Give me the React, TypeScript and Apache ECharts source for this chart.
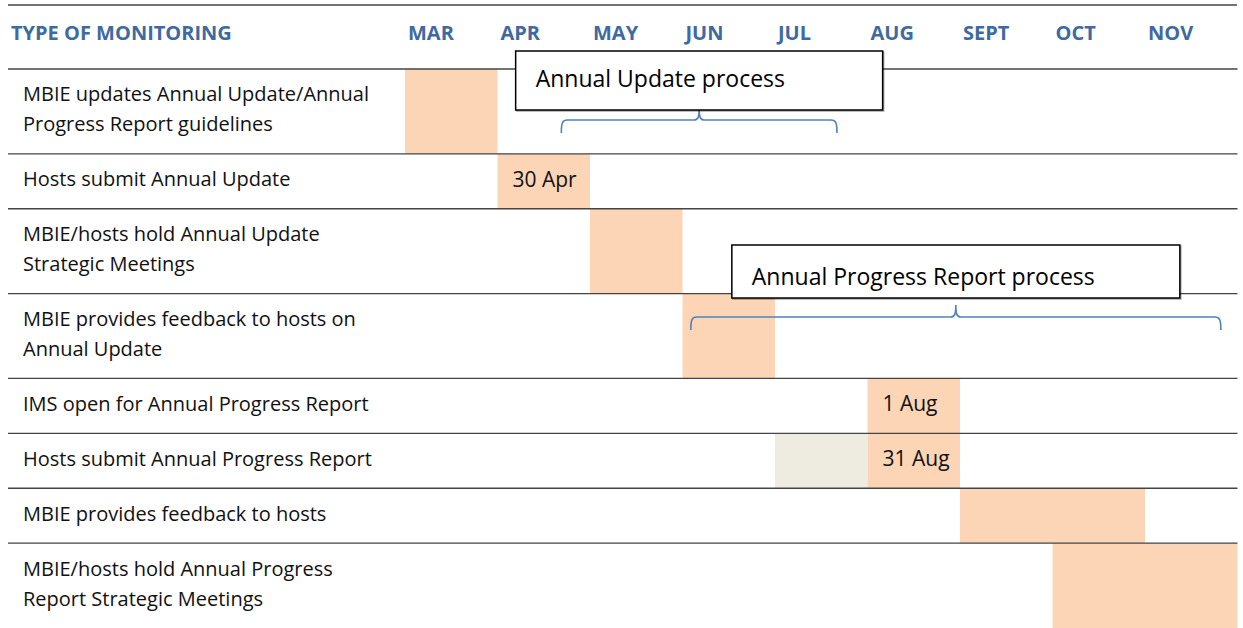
import React, { useEffect, useRef } from "react";
import * as echarts from "echarts";

// ---------- data ----------
const months = ["MAR", "APR", "MAY", "JUN", "JUL", "AUG", "SEPT", "OCT", "NOV"];
const headerTitle = "TYPE OF MONITORING";
const activities = [
  "MBIE updates Annual Update/Annual\nProgress Report guidelines",
  "Hosts submit Annual Update",
  "MBIE/hosts hold Annual Update\nStrategic Meetings",
  "MBIE provides feedback to hosts on\nAnnual Update",
  "IMS open for Annual Progress Report",
  "Hosts submit Annual Progress Report",
  "MBIE provides feedback to hosts",
  "MBIE/hosts hold Annual Progress\nReport Strategic Meetings",
];
// tasks: row index, start month index, end month index (exclusive)
const taskRow = [0, 1, 2, 3, 4, 5, 5, 6, 7];
const taskStart = [0, 1, 2, 3, 5, 4, 5, 6, 7];
const taskEnd = [1, 2, 3, 4, 6, 5, 6, 8, 9];
const taskLabel = ["", "30 Apr", "", "", "1 Aug", "", "31 Aug", "", ""];
const taskKind = ["main", "main", "main", "main", "main", "lead", "main", "main", "main"];

const processNames = ["Annual Update process", "Annual Progress Report process"];
const processStart = [1.69, 3.09];
const processEnd = [4.67, 8.82];

// ---------- layout ----------
const W = 1243;
const H = 628;
const FONT = "'Open Sans', 'Noto Sans', sans-serif";
const LINE_COLOR = "#444444";
const BLUE = "#3E6AA1";
const PEACH = "#FBD5B5";
const GREY = "#EEECE1";
const TEXT_DY = -2.5;
const rowHeights = activities.map((a) => (a.includes("\n") ? 85 : 55));
const rowTops: number[] = [];
rowHeights.reduce((acc, h) => {
  rowTops.push(acc);
  return acc + h;
}, 0);
const totalRows = rowHeights.reduce((a, b) => a + b, 0);
const calloutLayout = [
  { braceY: 120, boxW: 367, boxH: 59, gap: 10, textY: 27 },
  { braceY: 317, boxW: 448, boxH: 53, gap: 19, textY: 31 },
];

export default function App() {
  const ref = useRef<HTMLDivElement>(null);
  useEffect(() => {
    if (!ref.current) return;
    const chart = echarts.init(ref.current, null, { renderer: "svg" });
    const option: any = {
      animation: false,
      backgroundColor: "#ffffff",
      grid: { left: 405, right: 5.5, top: 69, bottom: 0 },
      xAxis: {
        type: "value",
        position: "top",
        min: 0,
        max: months.length,
        interval: 1,
        axisLine: { show: false },
        axisTick: { show: false },
        splitLine: { show: false },
        axisLabel: {
          formatter: (v: number) => months[Math.round(v)] ?? "",
          align: "left",
          verticalAlign: "middle",
          margin: 37,
          padding: [0, 0, 0, 3],
          color: BLUE,
          fontFamily: FONT,
          fontWeight: "bold",
          fontSize: 20,
        },
      },
      yAxis: { type: "value", inverse: true, min: 0, max: totalRows, show: false },
      graphic: [
        {
          type: "line",
          shape: { x1: 8, y1: 5, x2: 1237, y2: 5 },
          style: { stroke: LINE_COLOR, lineWidth: 1.3 },
        },
        {
          type: "text",
          x: 11,
          y: 32,
          style: {
            text: headerTitle,
            fill: BLUE,
            fontFamily: FONT,
            fontWeight: "bold",
            fontSize: 20,
            verticalAlign: "middle",
          },
        },
      ],
      series: [
        {
          type: "custom",
          z: 1,
          clip: false,
          data: taskRow.map((r, i) => [r, taskStart[i], taskEnd[i]]),
          renderItem: (params: any, api: any) => {
            const i = params.dataIndex;
            const r = api.value(0);
            const top = rowTops[r];
            const bot = top + rowHeights[r];
            const p1 = api.coord([api.value(1), top]);
            const p2 = api.coord([api.value(2), bot]);
            const children: any[] = [
              {
                type: "rect",
                shape: { x: p1[0], y: p1[1], width: p2[0] - p1[0], height: p2[1] - p1[1] },
                style: { fill: taskKind[i] === "lead" ? GREY : PEACH },
              },
            ];
            if (taskLabel[i]) {
              children.push({
                type: "text",
                style: {
                  text: taskLabel[i],
                  x: p1[0] + 15,
                  y: (p1[1] + p2[1]) / 2 + TEXT_DY,
                  verticalAlign: "middle",
                  fill: "#111111",
                  fontFamily: FONT,
                  fontSize: 21,
                },
              });
            }
            return { type: "group", children };
          },
        },
        {
          type: "custom",
          z: 2,
          clip: false,
          data: activities.map((_, i) => [i]),
          renderItem: (params: any, api: any) => {
            const r = api.value(0);
            const top = rowTops[r];
            const bot = top + rowHeights[r];
            const pTop = api.coord([0, top]);
            const pBot = api.coord([0, bot]);
            const xEnd = api.coord([months.length, 0])[0];
            return {
              type: "group",
              children: [
                {
                  type: "line",
                  shape: { x1: 8, y1: pTop[1], x2: xEnd, y2: pTop[1] },
                  style: { stroke: LINE_COLOR, lineWidth: 1.3 },
                },
                {
                  type: "text",
                  style: {
                    text: activities[r],
                    x: 23,
                    y: (pTop[1] + pBot[1]) / 2 + TEXT_DY,
                    verticalAlign: "middle",
                    lineHeight: 30,
                    fill: "#111111",
                    fontFamily: FONT,
                    fontSize: 20,
                  },
                },
              ],
            };
          },
        },
        {
          type: "custom",
          z: 3,
          clip: false,
          data: processNames.map((_, i) => [processStart[i], processEnd[i]]),
          renderItem: (params: any, api: any) => {
            const i = params.dataIndex;
            const L = calloutLayout[i];
            const x1 = api.coord([api.value(0), 0])[0];
            const x2 = api.coord([api.value(1), 0])[0];
            const xm = (x1 + x2) / 2;
            const y = L.braceY;
            const d =
              `M ${x1} ${y + 13} C ${x1} ${y + 3} ${x1 + 1} ${y} ${x1 + 6} ${y} ` +
              `L ${xm - 5} ${y} C ${xm - 1} ${y} ${xm} ${y - 3} ${xm} ${y - 12} ` +
              `C ${xm} ${y - 3} ${xm + 1} ${y} ${xm + 5} ${y} ` +
              `L ${x2 - 6} ${y} C ${x2 - 1} ${y} ${x2} ${y + 3} ${x2} ${y + 13}`;
            const bx = xm - L.boxW / 2;
            const by = y - L.gap - L.boxH;
            return {
              type: "group",
              children: [
                {
                  type: "path",
                  shape: { pathData: d },
                  style: { stroke: "#4F81BD", fill: "none", lineWidth: 1.6 },
                },
                {
                  type: "rect",
                  shape: { x: bx, y: by, width: L.boxW, height: L.boxH },
                  style: {
                    fill: "#ffffff",
                    stroke: "#000000",
                    lineWidth: 1.5,
                    shadowColor: "rgba(0,0,0,0.35)",
                    shadowOffsetX: 1,
                    shadowOffsetY: 1,
                    shadowBlur: 1,
                  },
                },
                {
                  type: "text",
                  style: {
                    text: processNames[i],
                    x: bx + 20,
                    y: by + L.textY,
                    verticalAlign: "middle",
                    fill: "#000000",
                    fontFamily: FONT,
                    fontSize: 23,
                  },
                },
              ],
            };
          },
        },
      ],
    };
    chart.setOption(option);
    return () => chart.dispose();
  }, []);
  return (
    <div
      ref={ref}
      style={{ position: "absolute", left: 0, top: 0, width: W, height: H, background: "#fff" }}
    />
  );
}
